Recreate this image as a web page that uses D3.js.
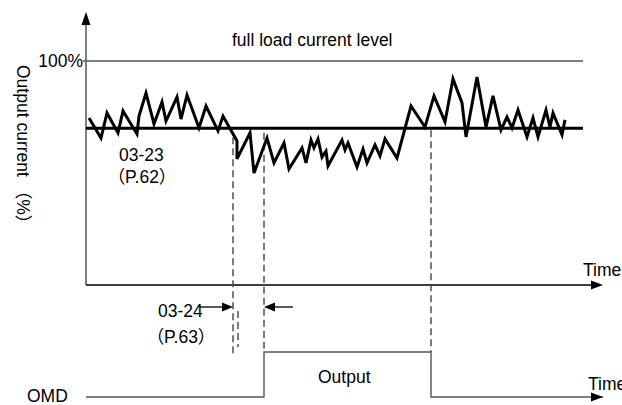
<!DOCTYPE html>
<html>
<head>
<meta charset="utf-8">
<script src="https://cdn.jsdelivr.net/npm/d3@7"></script>
<style>
  body { margin: 0; background: #fff; }
  text { font-family: "Liberation Sans", Arial, "Noto Sans CJK SC", sans-serif; font-size: 17.5px; fill: #000; }
</style>
</head>
<body>
<svg class="chart" width="622" height="405"></svg>
<script>
// output current waveform (time units, % of full load)
var waveT = [0.6, 3.0, 4.2, 6.4, 7.4, 10.2, 10.6, 12.0, 13.6, 15.2, 16.0, 18.2, 19.0, 20.2, 22.6, 24.0,
  26.4, 27.4, 30.2, 30.2, 32.8, 33.6, 36.2, 37.6, 39.6, 40.6, 43.2, 44.0, 45.0, 45.6, 46.4, 47.2,
  48.0, 48.4, 51.2, 51.8, 52.4, 54.2, 55.4, 56.2, 57.8, 58.8, 59.8, 62.2, 65.0, 67.8, 69.6, 71.8,
  73.4, 75.2, 76.0, 78.2, 80.0, 81.4, 83.0, 84.2, 85.2, 86.4, 88.2, 89.4, 90.4, 92.0, 92.8, 93.4,
  95.2, 95.8];
var waveC = [74.6, 65.6, 76.8, 67.9, 77.7, 67.4, 75.4, 85.7, 71.9, 81.7, 73.2, 83.9, 74.1, 84.8, 70.1, 79.9,
  68.8, 75.4, 64.3, 56.3, 67.9, 50.0, 65.6, 54.5, 63.4, 51.8, 61.2, 54.5, 64.7, 61.2, 65.2, 57.1,
  59.8, 53.1, 64.7, 60.3, 63.4, 52.7, 60.7, 54.5, 62.5, 57.6, 65.2, 56.7, 79.9, 70.5, 84.4, 72.8,
  92.0, 81.3, 66.1, 92.9, 70.5, 84.4, 69.2, 75.0, 70.1, 78.1, 66.1, 74.6, 66.1, 78.1, 70.5, 76.8,
  67.0, 73.7];

var fullLoad = 100;     // full load current level
var level = 70;         // 03-23 level
var delayStart = 29.4;  // current drops below level
var delayEnd = 35.6;    // 03-24 delay elapsed -> OMD on
var outputOff = 69.0;   // current back above level -> OMD off
var omdSignal = [[0, 0], [delayEnd, 0], [delayEnd, 1], [outputOff, 1], [outputOff, 0], [103.4, 0]];

var svg = d3.select(".chart");

var x = d3.scaleLinear().domain([0, 100]).range([86, 586]);
var y = d3.scaleLinear().domain([0, 100]).range([285, 61]);
var yd = d3.scaleLinear().domain([0, 1]).range([397, 352]);

function arrowHead(tx, ty, dir, len, half) {
  // dir: "up", "right", "left"
  var p;
  if (dir == "up") p = [[tx, ty], [tx - half, ty + len], [tx + half, ty + len]];
  else if (dir == "right") p = [[tx, ty], [tx - len, ty - half], [tx - len, ty + half]];
  else p = [[tx, ty], [tx + len, ty - half], [tx + len, ty + half]];
  svg.append("path").attr("d", "M" + p.join("L") + "Z").attr("fill", "#000");
}

// y axis
svg.append("line").attr("x1", x(0)).attr("x2", x(0)).attr("y1", y(0)).attr("y2", y(117))
    .attr("stroke", "#555").attr("stroke-width", 1.5);
arrowHead(x(0), y(121.9), "up", 13, 4.5);

// time axis
svg.append("line").attr("x1", x(0)).attr("x2", x(101)).attr("y1", y(0)).attr("y2", y(0))
    .attr("stroke", "#000").attr("stroke-width", 1.3);
arrowHead(x(103.4), y(0), "right", 12, 4.5);

// full load line
svg.append("line").attr("x1", x(-0.6)).attr("x2", x(99.4)).attr("y1", y(fullLoad)).attr("y2", y(fullLoad))
    .attr("stroke", "#555").attr("stroke-width", 1.5);

// level line
svg.append("line").attr("x1", x(0)).attr("x2", x(99.4)).attr("y1", y(level)).attr("y2", y(level))
    .attr("stroke", "#000").attr("stroke-width", 3);

// dashed markers
function dashed(t, yTop, yBot) {
  svg.append("line").attr("x1", x(t)).attr("x2", x(t)).attr("y1", yTop).attr("y2", yBot)
      .attr("stroke", "#444").attr("stroke-width", 1.4).attr("stroke-dasharray", "7,4");
}
dashed(delayStart, y(66), 355);
dashed(delayEnd, y(68), yd(1));
dashed(outputOff, y(level) + 2, yd(1));
dashed(delayStart + 1.0, 311, 347);

// waveform
var wave = waveT.map(function(t, i) { return [t, waveC[i]]; });
svg.append("path")
    .attr("d", d3.line().x(function(d) { return x(d[0]); }).y(function(d) { return y(d[1]); })(wave))
    .attr("fill", "none").attr("stroke", "#000").attr("stroke-width", 3).attr("stroke-linejoin", "miter");

// OMD signal
svg.append("path")
    .attr("d", d3.line().x(function(d) { return x(d[0]); }).y(function(d) { return yd(d[1]); })(omdSignal))
    .attr("fill", "none").attr("stroke", "#555").attr("stroke-width", 1.4);
arrowHead(x(103.4), yd(0), "right", 12, 4.5);

// delay arrows
svg.append("line").attr("x1", 200).attr("x2", x(delayStart) - 8).attr("y1", 307).attr("y2", 307)
    .attr("stroke", "#000").attr("stroke-width", 1.3);
arrowHead(x(delayStart), 307, "right", 11, 4.5);
svg.append("line").attr("x1", x(delayEnd) + 8).attr("x2", 293).attr("y1", 307).attr("y2", 307)
    .attr("stroke", "#000").attr("stroke-width", 1.3);
arrowHead(x(delayEnd), 307, "left", 11, 4.5);

// labels
svg.append("text").attr("x", 232).attr("y", 46).text("full load current level");
svg.append("text").attr("x", 83).attr("y", 67).style("text-anchor", "end").text("100%");
svg.append("text").attr("x", 119).attr("y", 161).text("03-23");
svg.append("text").attr("x", 142).attr("y", 183).style("text-anchor", "middle").text("（P.62）");
svg.append("text").attr("x", 158).attr("y", 317).text("03-24");
svg.append("text").attr("x", 181).attr("y", 343).style("text-anchor", "middle").text("（P.63）");
svg.append("text").attr("x", 27).attr("y", 402).text("OMD");
svg.append("text").attr("x", 318).attr("y", 383).text("Output");
svg.append("text").attr("x", 583).attr("y", 276).text("Time");
svg.append("text").attr("x", 588).attr("y", 390).text("Time");
svg.append("text")
    .attr("transform", "translate(17,65) rotate(90)")
    .text("Output current （%）");
</script>
</body>
</html>
